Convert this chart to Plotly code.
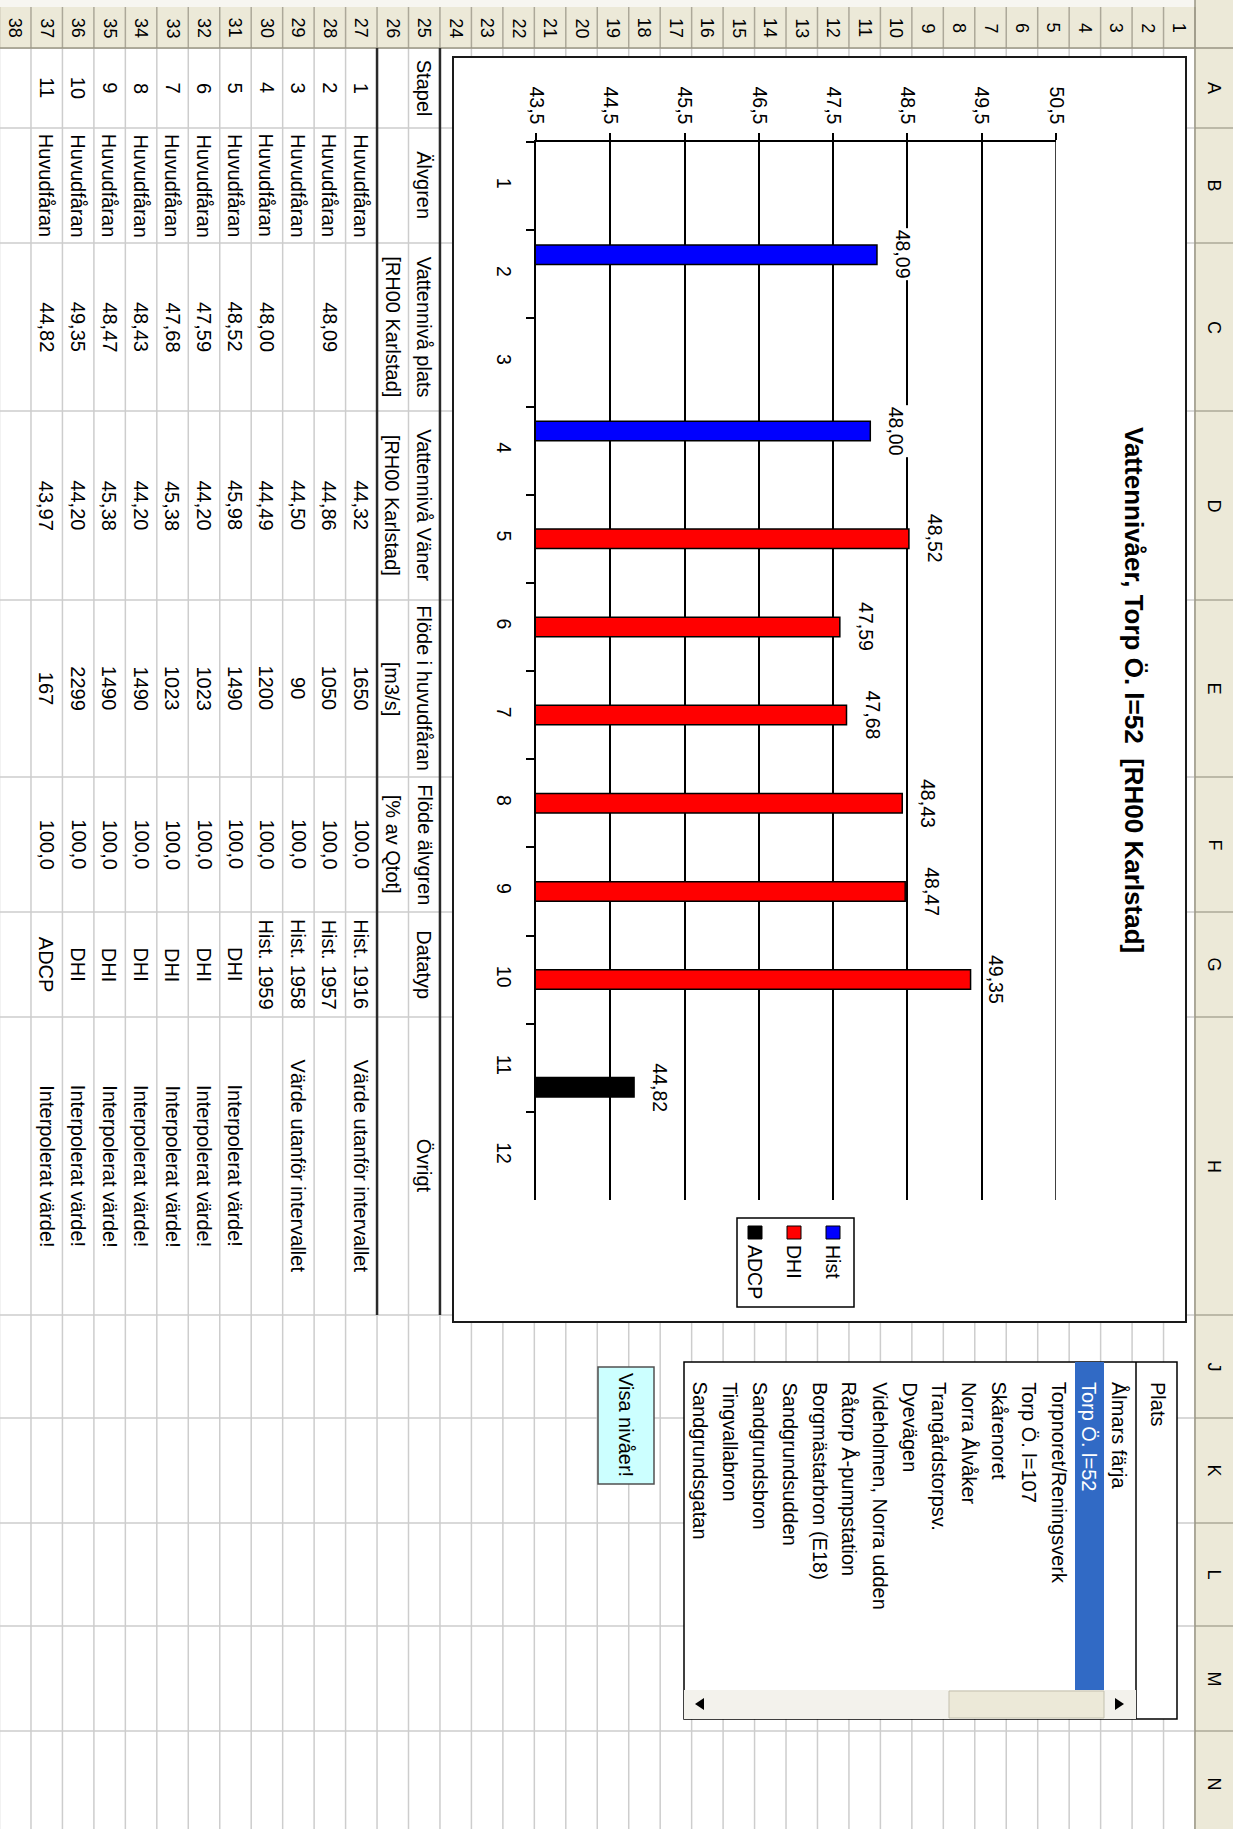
import plotly.graph_objects as go

# ---------------- data ----------------
categories = ["1", "2", "3", "4", "5", "6", "7", "8", "9", "10", "11", "12"]
hist = [None, 48.09, None, 48.00, None, None, None, None, None, None, None, None]
dhi = [None, None, None, None, 48.52, 47.59, 47.68, 48.43, 48.47, 49.35, None, None]
adcp = [None, None, None, None, None, None, None, None, None, None, 44.82, None]
value_ticks = [43.5, 44.5, 45.5, 46.5, 47.5, 48.5, 49.5, 50.5]
value_tick_text = ["43,5", "44,5", "45,5", "46,5", "47,5", "48,5", "49,5", "50,5"]
chart_title = "Vattennivåer, Torp Ö. l=52\u00a0\u00a0[RH00 Karlstad]"

col_headers = ["Stapel", "Älvgren", "Vattennivå plats", "Vattennivå Väner",
               "Flöde i huvudfåran", "Flöde älvgren", "Datatyp", "Övrigt"]
col_units = ["", "", "[RH00 Karlstad]", "[RH00 Karlstad]", "[m3/s]", "[% av Qtot]", "", ""]
stapel = [1, 2, 3, 4, 5, 6, 7, 8, 9, 10, 11]
alvgren = ["Huvudfåran", "Huvudfåran", "Huvudfåran", "Huvudfåran", "Huvudfåran", "Huvudfåran",
           "Huvudfåran", "Huvudfåran", "Huvudfåran", "Huvudfåran", "Huvudfåran"]
niva_plats = [None, 48.09, None, 48.00, 48.52, 47.59, 47.68, 48.43, 48.47, 49.35, 44.82]
niva_vaner = [44.32, 44.86, 44.50, 44.49, 45.98, 44.20, 45.38, 44.20, 45.38, 44.20, 43.97]
flode = [1650, 1050, 90, 1200, 1490, 1023, 1023, 1490, 1490, 2299, 167]
flode_pct = [100.0, 100.0, 100.0, 100.0, 100.0, 100.0, 100.0, 100.0, 100.0, 100.0, 100.0]
datatyp = ["Hist. 1916", "Hist. 1957", "Hist. 1958", "Hist. 1959", "DHI", "DHI", "DHI",
           "DHI", "DHI", "DHI", "ADCP"]
ovrigt = ["Värde utanför intervallet", "", "Värde utanför intervallet", "",
          "Interpolerat värde!", "Interpolerat värde!", "Interpolerat värde!",
          "Interpolerat värde!", "Interpolerat värde!", "Interpolerat värde!",
          "Interpolerat värde!"]
plats_items = ["Ålmars färja", "Torp Ö. l=52", "Torpnoret/Reningsverk", "Torp Ö. l=107",
               "Skårenoret", "Norra Ålvåker", "Trangårdstorpsv.", "Dyevägen",
               "Videholmen, Norra udden", "Råtorp Å-pumpstation", "Borgmästarbron (E18)",
               "Sandgrundsudden", "Sandgrundsbron", "Tingvallabron", "Sandgrundsgatan"]
selected_item = "Torp Ö. l=52"
col_letters = ["A", "B", "C", "D", "E", "F", "G", "H", "J", "K", "L", "M", "N"]
button_text = "Visa nivåer!"

# ---------------- layout helpers ----------------
W, H = 1233, 1829
FONT = "Liberation Sans, Arial, sans-serif"


def px(x):
    return x / W


def py(y):
    return 1 - y / H


shapes = []
annotations = []


def rect(x0, y0, x1, y1, fill=None, color=None, width=0):
    shapes.append(dict(type="rect", xref="paper", yref="paper",
                       x0=px(x0), x1=px(x1), y0=py(y1), y1=py(y0),
                       fillcolor=fill or "rgba(0,0,0,0)",
                       line=dict(color=color or "rgba(0,0,0,0)", width=width),
                       layer="below"))


def line(x0, y0, x1, y1, color, width):
    shapes.append(dict(type="line", xref="paper", yref="paper",
                       x0=px(x0), y0=py(y0), x1=px(x1), y1=py(y1),
                       line=dict(color=color, width=width), layer="below"))


def path(points, fill):
    d = "M " + " L ".join(f"{px(a):.5f},{py(b):.5f}" for a, b in points) + " Z"
    shapes.append(dict(type="path", xref="paper", yref="paper", path=d,
                       fillcolor=fill, line=dict(width=0), layer="below"))


def text(x, y, s, size=20, color="black", xanchor="center", yanchor="middle", bg=None):
    annotations.append(dict(xref="paper", yref="paper", x=px(x), y=py(y), text=s,
                            showarrow=False, textangle=90, xanchor=xanchor, yanchor=yanchor,
                            font=dict(family=FONT, size=size, color=color),
                            bgcolor=bg, borderpad=0))


def fmt2(v):
    return "" if v is None else f"{v:.2f}".replace(".", ",")


def fmt1(v):
    return f"{v:.1f}".replace(".", ",")


# ---------------- spreadsheet grid ----------------
ROW_W = 31.46
ROW_RIGHT = 1195
HDR_BOTTOM = 48
col_edges = [48, 128, 243, 411, 600, 777, 912, 1017, 1315, 1418, 1523, 1626, 1731, 1836]
GRID = "#CDCDCD"

rect(0, 0, W, H, fill="white")
for n in range(0, 39):
    xx = ROW_RIGHT - n * ROW_W
    line(xx, HDR_BOTTOM, xx, H, GRID, 1.5)
for yy in col_edges:
    line(0, yy, ROW_RIGHT, yy, GRID, 1.5)

# header strips
rect(0, 0, ROW_RIGHT, HDR_BOTTOM, fill="#ECE9D8")
rect(0, 0, W, 7, fill="#F7F6F1")
rect(ROW_RIGHT, 0, W, H, fill="#ECE9D8")
for n in range(0, 39):
    xx = ROW_RIGHT - n * ROW_W
    line(xx, 7, xx, HDR_BOTTOM, "#ACA899", 1.5)
    if n >= 1:
        text(xx + ROW_W / 2, 28, str(n), size=18)
line(0, HDR_BOTTOM, W, HDR_BOTTOM, "#9A9684", 1.5)
for i, yy in enumerate(col_edges):
    line(ROW_RIGHT, yy, W, yy, "#ACA899", 1.5)
for i, letter in enumerate(col_letters):
    text(1214, (col_edges[i] + col_edges[i + 1]) / 2, letter, size=18)
line(ROW_RIGHT, 0, ROW_RIGHT, H, "#9A9684", 1.5)


def row_center(r):
    return ROW_RIGHT - (r - 0.5) * ROW_W


def col_center(c):
    return (col_edges[c] + col_edges[c + 1]) / 2


# table
for c, s in enumerate(col_headers):
    text(row_center(25), col_center(c), s)
for c, s in enumerate(col_units):
    if s:
        text(row_center(26), col_center(c), s)
for i in range(len(stapel)):
    r = 27 + i
    vals = [str(stapel[i]), alvgren[i], fmt2(niva_plats[i]), fmt2(niva_vaner[i]),
            str(flode[i]), fmt1(flode_pct[i]), datatyp[i], ovrigt[i]]
    for c, s in enumerate(vals):
        if s:
            text(row_center(r), col_center(c), s)
line(ROW_RIGHT - 24 * ROW_W, HDR_BOTTOM, ROW_RIGHT - 24 * ROW_W, 1315, "#2a2a2a", 2.5)
line(ROW_RIGHT - 26 * ROW_W, HDR_BOTTOM, ROW_RIGHT - 26 * ROW_W, 1315, "#2a2a2a", 2.5)

# chart frame
rect(453, 57, 1186, 1322, fill="white", color="#1a1a1a", width=2)

# legend (drawn manually, rotated like the chart)
rect(737, 1218, 854, 1307, fill="white", color="black", width=1.5)
legend_items = [("Hist", "#0000FF", 833), ("DHI", "#FF0000", 794), ("ADCP", "#000000", 755)]
for name, colr, cx in legend_items:
    rect(cx - 7, 1226, cx + 7, 1239, fill=colr, color="black", width=1)
    text(cx, 1244, name, size=19.5, yanchor="top")

# title
text(1134, 690, "<b>" + chart_title + "</b>", size=26)

# button
rect(598, 1367, 654, 1484, fill="#CCFFFF", color="#505050", width=1.5)
text(626, 1425, button_text, size=20)

# list box
rect(684, 1362, 1177, 1719, fill="white", color="black", width=1.5)
line(1136, 1362, 1136, 1719, "black", 1.5)
text(1158, 1381, "Plats", size=20, yanchor="top")
sel = plats_items.index(selected_item)
rect(1104 - (sel - 1) * 30.0 - 29, 1362, 1104 - (sel - 1) * 30.0, 1690, fill="#316AC5")
for k, item in enumerate(plats_items):
    cx = 1119 - k * 29.9
    text(cx, 1381, item, size=20, yanchor="top",
         color="white" if item == selected_item else "black")
# scrollbar
rect(684, 1690, 1136, 1719, fill="#F3F2EC")
rect(949, 1691, 1104, 1718, fill="#ECE9D8", color="#C3C0AE", width=1)
rect(685, 1691, 716, 1718, fill="#F3F2EC")
path([(695, 1704), (704, 1698), (704, 1710)], "black")
path([(1124, 1704), (1115, 1698), (1115, 1710)], "black")

# ---------------- chart ----------------
fig = go.Figure()
bar_line = dict(color="black", width=1.5)
fig.add_trace(go.Bar(y=categories, x=hist, orientation="h", name="Hist",
                     marker=dict(color="#0000FF", line=bar_line)))
fig.add_trace(go.Bar(y=categories, x=dhi, orientation="h", name="DHI",
                     marker=dict(color="#FF0000", line=bar_line)))
fig.add_trace(go.Bar(y=categories, x=adcp, orientation="h", name="ADCP",
                     marker=dict(color="#000000", line=bar_line)))

# last gridline at the right end of the value axis
shapes.append(dict(type="line", xref="x", yref="paper", x0=value_ticks[-1], x1=value_ticks[-1],
                   y0=py(1200), y1=py(142), line=dict(color="black", width=1.5), layer="above"))

slot = 19.6
for series, shift in ((hist, slot), (dhi, 0), (adcp, -slot)):
    for idx, v in enumerate(series):
        if v is not None:
            annotations.append(dict(xref="x", yref="y", x=v, y=idx, text=fmt2(v),
                                    showarrow=False, textangle=90, xshift=26, yshift=shift,
                                    xanchor="center", yanchor="middle", bgcolor="white",
                                    borderpad=1,
                                    font=dict(family=FONT, size=19.5, color="black")))

fig.update_layout(
    width=W, height=H, margin=dict(l=0, r=0, t=0, b=0, pad=0),
    paper_bgcolor="white", plot_bgcolor="rgba(0,0,0,0)",
    showlegend=False, barmode="group", bargap=0.335, bargroupgap=0,
    font=dict(family=FONT, color="black"),
    shapes=shapes, annotations=annotations,
    xaxis=dict(domain=[px(536), px(1056)], range=[43.5, 50.5], side="top",
               tickvals=value_ticks, ticktext=value_tick_text, tickangle=90,
               tickfont=dict(size=19.5, family=FONT, color="black"),
               ticks="outside", ticklen=7, tickwidth=1.5, tickcolor="black",
               ticklabelstandoff=2,
               showline=True, linecolor="black", linewidth=1.5,
               showgrid=True, gridcolor="black", gridwidth=1.5,
               zeroline=False, automargin=False, fixedrange=True),
    yaxis=dict(domain=[py(1200), py(142)], type="category",
               categoryorder="array", categoryarray=categories, autorange="reversed",
               tickangle=90, tickfont=dict(size=19.5, family=FONT, color="black"),
               ticks="outside", ticklen=8, tickwidth=1.5, tickcolor="black",
               tickson="boundaries", ticklabelstandoff=14,
               showline=True, linecolor="black", linewidth=1.5,
               showgrid=False, zeroline=False, automargin=False, fixedrange=True),
)

fig.write_html("out.html")
